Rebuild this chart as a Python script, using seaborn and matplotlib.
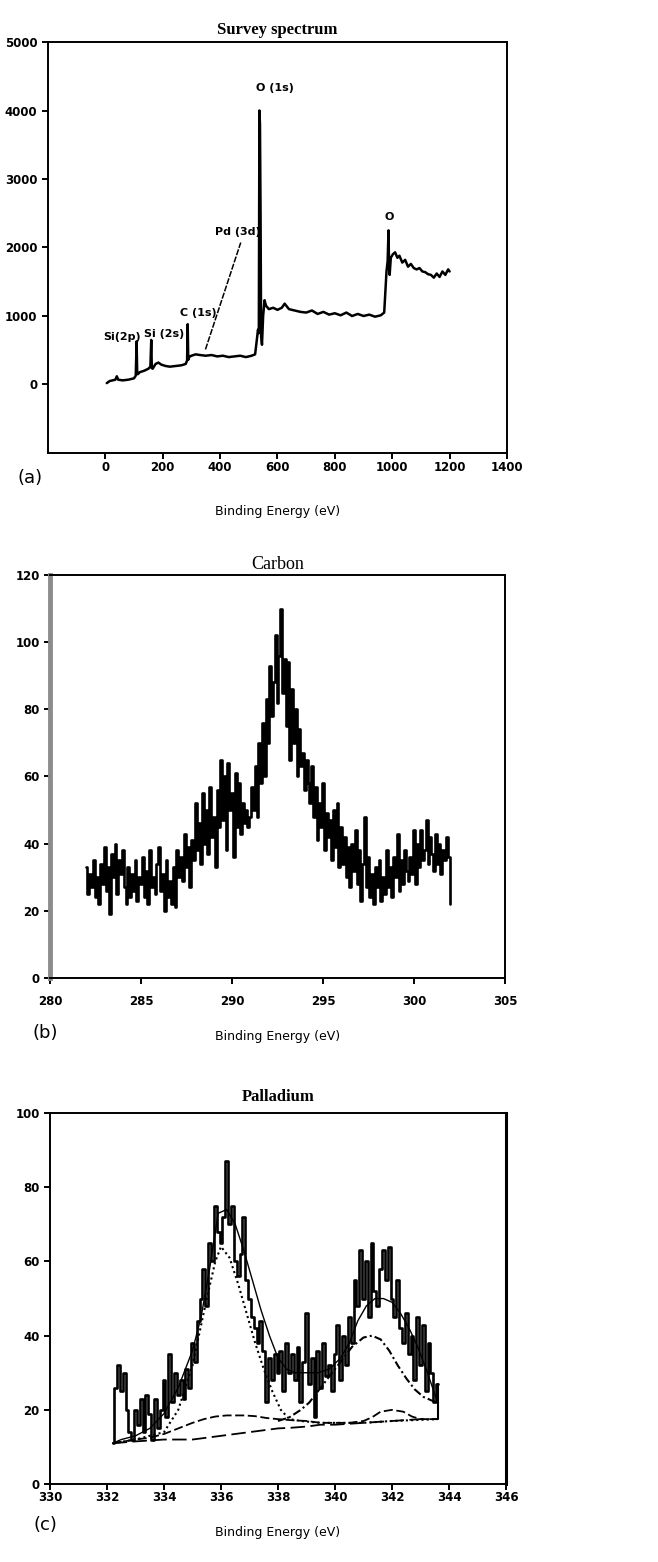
import numpy as np
import pandas as pd
import matplotlib
matplotlib.use("Agg")
import matplotlib.pyplot as plt
import seaborn as sns

sns.set_theme(style="ticks")
plt.rcParams['font.family'] = ['DejaVu Sans']
plt.rcParams['text.color'] = 'black'
plt.rcParams['axes.labelcolor'] = 'black'

# survey spectrum (a)
survey_x = [5, 15, 25, 35, 40, 45, 60, 80, 100, 106,
            109, 111, 113, 120, 135, 150, 157, 160, 162, 165,
            175, 185, 195, 210, 225, 245, 265, 280, 285, 287,
            289, 292, 300, 315, 330, 350, 370, 390, 410, 430,
            450, 470, 490, 510, 522, 528, 532, 535, 537, 539,
            541, 543, 546, 550, 555, 560, 570, 585, 600, 615,
            625, 640, 660, 680, 700, 720, 740, 760, 780, 800,
            820, 840, 860, 880, 900, 920, 940, 960, 972, 976,
            980, 984, 987, 989, 991, 995, 1002, 1010, 1018, 1025,
            1035, 1045, 1055, 1065, 1075, 1085, 1095, 1105, 1115, 1125,
            1135, 1145, 1155, 1165, 1175, 1185, 1195, 1200]
survey_y = [20, 50, 60, 70, 120, 70, 60, 70, 90, 130,
            630, 170, 150, 180, 200, 230, 260, 650, 240, 230,
            300, 320, 290, 270, 260, 270, 280, 300, 350, 880,
            360, 400, 420, 440, 430, 420, 430, 410, 420, 400,
            410, 420, 400, 420, 440, 650, 800, 750, 4000, 3800,
            2500, 700, 580, 1000, 1230, 1150, 1100, 1120, 1090, 1120,
            1180, 1100, 1080, 1060, 1050, 1080, 1030, 1060, 1020, 1040,
            1010, 1050, 1000, 1030, 1000, 1020, 990, 1010, 1050, 1350,
            1650, 1800, 2250, 1700, 1600, 1850, 1900, 1930, 1850, 1880,
            1780, 1820, 1720, 1760, 1700, 1680, 1700, 1650, 1640, 1610,
            1600, 1560, 1620, 1570, 1650, 1600, 1680, 1650]
peak_labels = ["Si(2p)", "Si (2s)", "C (1s)", "Pd (3d)", "O (1s)", "O"]
peak_label_x = [57, 204, 324, 461, 590, 989]
peak_label_y = [690, 730, 1050, 2230, 4330, 2450]
pd_line_x = [349, 472]
pd_line_y = [512, 2073]

# carbon (b), 282.0 .. 302.0 eV every 0.1 eV
carbon_start, carbon_step = 282.0, 0.1
carbon_y = [33, 25, 31, 27, 35, 24, 30, 22, 34, 28,
            39, 26, 33, 19, 37, 30, 40, 25, 35, 31,
            38, 27, 22, 33, 24, 31, 26, 35, 23, 30,
            28, 36, 24, 32, 22, 38, 27, 30, 25, 34,
            39, 26, 31, 20, 35, 24, 29, 22, 33, 21,
            38, 30, 36, 29, 43, 33, 39, 27, 41, 35,
            52, 38, 46, 34, 55, 40, 50, 37, 57, 42,
            48, 33, 56, 45, 65, 47, 60, 38, 64, 50,
            55, 36, 61, 45, 58, 43, 52, 46, 50, 45,
            48, 57, 50, 63, 48, 70, 58, 76, 60, 83,
            70, 93, 78, 88, 102, 82, 96, 110, 85, 95,
            75, 94, 65, 86, 70, 80, 60, 74, 63, 67,
            56, 65, 58, 52, 63, 48, 57, 41, 52, 45,
            58, 38, 49, 42, 47, 35, 50, 39, 52, 33,
            45, 34, 42, 30, 39, 27, 40, 32, 44, 28,
            38, 23, 34, 48, 27, 36, 24, 31, 22, 33,
            27, 35, 23, 30, 25, 38, 27, 33, 24, 36,
            30, 43, 26, 35, 28, 38, 32, 29, 36, 31,
            44, 28, 40, 33, 44, 35, 38, 47, 34, 42,
            37, 32, 43, 34, 40, 31, 38, 35, 42, 36,
            22]

# palladium (c), raw counts 332.2 .. 343.6 eV every 0.1 eV
pd_start, pd_step = 332.2, 0.1
pd_y = [11, 26, 32, 25, 30, 20, 14, 12,
        20, 16, 23, 14, 24, 19, 12, 23, 15, 20,
        28, 18, 35, 22, 30, 24, 28, 23, 31, 26,
        38, 33, 44, 50, 58, 48, 65, 60, 75, 68,
        65, 72, 87, 70, 75, 60, 56, 62, 72, 55,
        50, 45, 42, 38, 44, 36, 22, 34, 28, 35,
        30, 36, 25, 38, 30, 35, 28, 37, 22, 33,
        46, 27, 34, 18, 36, 26, 38, 29, 32, 25,
        35, 43, 28, 40, 32, 45, 38, 55, 48, 63,
        50, 60, 45, 65, 52, 48, 58, 63, 55, 64,
        50, 45, 55, 42, 38, 46, 35, 40, 28, 45,
        32, 43, 25, 38, 30, 22, 27]
env_x = [332.2, 332.5, 333, 333.5, 334, 334.5, 335, 335.3, 335.6, 335.9,
         336.2, 336.5, 336.8, 337.1, 337.4, 337.7, 338.0, 338.3, 338.6, 339.0,
         339.4, 339.8, 340.2, 340.5, 340.8, 341.1, 341.4, 341.7, 342.0, 342.3,
         342.6, 342.9, 343.2, 343.6]
env_y = [11, 12, 13, 15, 19, 26, 36, 45, 58, 73,
         74, 70, 63, 55, 47, 40, 34, 31, 30, 30,
         30, 31, 34, 38, 44, 48, 50, 50, 49, 46,
         42, 37, 31, 22]
c1_x = [332.2, 333, 334, 334.5, 335, 335.5, 335.8, 336.0, 336.3, 336.6,
        336.9, 337.2, 337.5, 337.8, 338.1, 338.4, 338.8, 339.5, 340, 341,
        342, 343.6]
c1_y = [11, 12, 14, 20, 32, 50, 60, 64, 61, 54,
        46, 38, 31, 25, 20, 17.5, 17, 16.5, 16.5, 16.5,
        17, 17.5]
c2_x = [338.0, 338.4, 338.8, 339.1, 339.4, 339.8, 340.2, 340.6, 341.0, 341.3,
        341.6, 341.9, 342.2, 342.5, 342.8, 343.1, 343.4, 343.6]
c2_y = [17, 18, 20, 22, 25, 29, 33, 37, 39.5, 40,
        39, 36, 32, 28.5, 25.5, 23.5, 22.5, 22]
c3_x = [332.2, 333, 333.5, 334, 334.5, 335, 335.4, 335.8, 336.2, 336.8,
        337.2, 337.6, 338.0, 338.5, 339, 339.5, 340, 340.5, 341, 341.3,
        341.6, 342.0, 342.4, 342.7, 343.0, 343.6]
c3_y = [11, 12, 12.5, 13.5, 15, 16.5, 17.5, 18.2, 18.5, 18.5,
        18.3, 17.8, 17.5, 17.2, 17, 16.5, 16.5, 16.5, 17, 18,
        19.5, 20, 19.5, 18.2, 17.5, 17.5]
bg_x = [332.2, 333, 334, 335, 335.5, 336, 336.5, 337, 337.5, 338,
        338.5, 339, 339.5, 340, 341, 342, 343, 343.6]
bg_y = [11, 11.5, 12, 12, 12.5, 13, 13.5, 14, 14.5, 15,
        15.2, 15.5, 16, 16, 16.5, 17, 17.5, 17.5]


def style_axes(ax, spine_w=1.4):
    for side in ["left", "right", "top", "bottom"]:
        ax.spines[side].set_visible(True)
        ax.spines[side].set_color("black")
        ax.spines[side].set_linewidth(spine_w)
    ax.tick_params(axis="both", direction="out", length=4, width=1.4,
                   color="black", labelsize=8.5, labelcolor="black")
    for lab in ax.get_xticklabels() + ax.get_yticklabels():
        lab.set_fontweight("bold")
    ax.grid(False)
    ax.set_facecolor("white")


fig = plt.figure(figsize=(6.58, 15.62), dpi=100)
fig.patch.set_facecolor("white")

# ---- (a) survey
ax1 = fig.add_axes([0.0729, 0.7100, 0.6976, 0.2631])
sdf = pd.DataFrame({"x": survey_x, "y": survey_y})
sns.lineplot(data=sdf, x="x", y="y", ax=ax1, color="black", lw=1.8,
             sort=False)
ax1.plot(pd_line_x, pd_line_y, color="black", lw=1.1, ls=(0, (4, 1)))
for lab, lx, ly in zip(peak_labels, peak_label_x, peak_label_y):
    ax1.text(lx, ly, lab, ha="center", va="center", fontsize=8,
             fontweight="bold", color="black")
ax1.set_xlim(-200, 1400)
ax1.set_ylim(-1000, 5000)
ax1.set_xticks(range(0, 1401, 200))
ax1.set_yticks(range(0, 5001, 1000))
style_axes(ax1)
ax1.tick_params(axis="x", pad=2)
ax1.set_title("Survey spectrum", family="Liberation Serif",
              fontweight="bold", fontsize=12, pad=6, color="black")
ax1.set_xlabel("Binding Energy (eV)", fontsize=9, labelpad=22)
ax1.set_ylabel("")

# ---- (b) carbon
ax2 = fig.add_axes([0.0760, 0.3739, 0.6915, 0.2580])
cx = carbon_start + carbon_step * np.arange(len(carbon_y))
cdf = pd.DataFrame({"x": cx, "y": carbon_y})
sns.lineplot(data=cdf, x="x", y="y", ax=ax2, color="black", lw=1.9,
             drawstyle="steps-mid")
ax2.set_xlim(280, 305)
ax2.set_ylim(0, 120)
ax2.set_xticks(range(280, 306, 5))
ax2.set_yticks(range(0, 121, 20))
style_axes(ax2)
ax2.spines["left"].set_color("#8c8c8c")
ax2.spines["left"].set_linewidth(3.5)
ax2.tick_params(axis="x", pad=8)
ax2.set_title("Carbon", family="Liberation Serif", fontsize=13, pad=4,
              color="black")
ax2.set_xlabel("Binding Energy (eV)", fontsize=9, labelpad=16)
ax2.set_ylabel("")

# ---- (c) palladium
ax3 = fig.add_axes([0.0760, 0.0499, 0.6930, 0.2375])
px = pd_start + pd_step * np.arange(len(pd_y))
pdf = pd.DataFrame({"x": px, "y": pd_y})
sns.lineplot(data=pdf, x="x", y="y", ax=ax3, color="black", lw=1.9,
             drawstyle="steps-mid")
sns.lineplot(x=env_x, y=env_y, ax=ax3, color="black", lw=1.0)
sns.lineplot(x=c1_x, y=c1_y, ax=ax3, color="black", lw=1.5,
             linestyle=(0, (1, 1.5)))
sns.lineplot(x=c2_x, y=c2_y, ax=ax3, color="black", lw=1.5,
             linestyle=(0, (4, 1.5, 1, 1.5)))
sns.lineplot(x=c3_x, y=c3_y, ax=ax3, color="black", lw=1.3,
             linestyle=(0, (5, 2)))
sns.lineplot(x=bg_x, y=bg_y, ax=ax3, color="black", lw=1.3,
             linestyle=(0, (8, 3)))
ax3.plot([px[-1], px[-1]], [pd_y[-1], bg_y[-1]], color="black", lw=1.5)
ax3.set_xlim(330, 346)
ax3.set_ylim(0, 100)
ax3.set_xticks(range(330, 347, 2))
ax3.set_yticks(range(0, 101, 20))
style_axes(ax3)
ax3.spines["right"].set_linewidth(2.2)
ax3.tick_params(axis="x", pad=1)
ax3.set_title("Palladium", family="Liberation Serif", fontweight="bold",
              fontsize=12, pad=9, color="black")
ax3.set_xlabel("Binding Energy (eV)", fontsize=9, labelpad=16)
ax3.set_ylabel("")

# panel letters
fig.text(30 / 658, 1 - 478 / 1562, "(a)", fontsize=13, ha="center",
         va="center", color="black")
fig.text(45 / 658, 1 - 1033 / 1562, "(b)", fontsize=13, ha="center",
         va="center", color="black")
fig.text(45 / 658, 1 - 1525 / 1562, "(c)", fontsize=13, ha="center",
         va="center", color="black")

fig.savefig("out.png", dpi=100, facecolor="white")
